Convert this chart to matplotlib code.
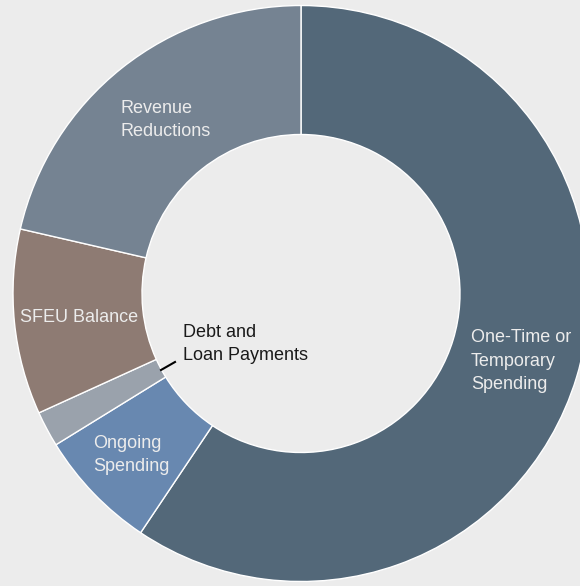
import numpy as np
import matplotlib
matplotlib.use("Agg")
import matplotlib.pyplot as plt

# shares of the budget solution (percent), clockwise from 12 o'clock
labels = ["One-Time or\nTemporary\nSpending", "Ongoing\nSpending",
          "Debt and\nLoan Payments", "SFEU Balance", "Revenue\nReductions"]
shares = [59.4, 6.8, 2.0, 10.4, 21.4]
colors = ["#536879", "#6888b0", "#9aa2ac", "#8e7b73", "#758392"]

plt.rcParams['font.family'] = ['Liberation Sans', 'DejaVu Sans']

fig = plt.figure(figsize=(5.8, 5.86), dpi=100)
fig.patch.set_facecolor("#ececec")
ax = fig.add_axes([0, 0, 1, 1])
ax.set_facecolor("#ececec")

cx, cy = 301, 586 - 293.5
R, r = 288, 159
wedges, _ = ax.pie(shares, colors=colors, startangle=90, counterclock=False,
                   center=(cx, cy), radius=R, frame=True,
                   wedgeprops=dict(width=R - r, edgecolor="white", linewidth=1))
ax.set_xlim(0, 580)
ax.set_ylim(0, 586)
ax.set_aspect("equal")
ax.axis("off")

# label positions in pixel coords (from top-left)
pos = {0: (471, 361), 1: (93, 455), 3: (20, 317), 4: (120, 120)}
for i, (x, y) in pos.items():
    ax.text(x, 586 - y, labels[i], color="#ececec", fontsize=13,
            ha="left", va="center", linespacing=1.5)

# debt label sits inside the hole with a leader line
ax.text(183, 586 - 344, labels[2], color="#1a1a1a", fontsize=13,
        ha="left", va="center", linespacing=1.5)
ax.plot([161, 175], [586 - 370, 586 - 362], color="black", lw=1.5)

fig.savefig("out.png", dpi=100, facecolor=fig.get_facecolor())
